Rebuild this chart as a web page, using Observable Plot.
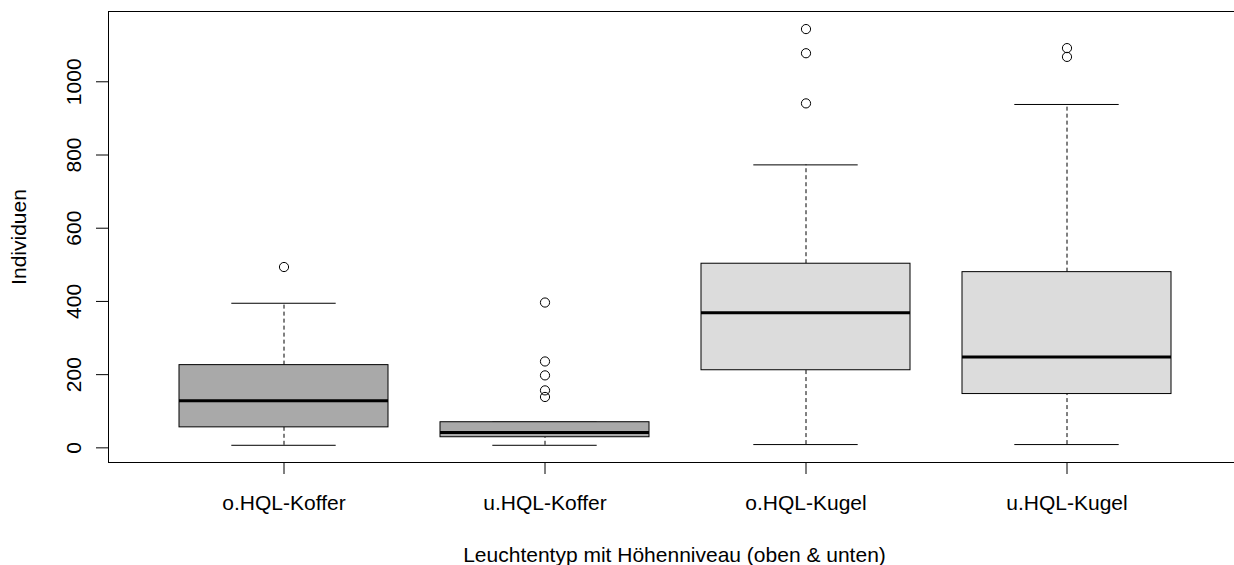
<!DOCTYPE html>
<html>
<head>
<meta charset="utf-8">
<script src="https://cdn.jsdelivr.net/npm/d3@7"></script>
<script src="https://cdn.jsdelivr.net/npm/@observablehq/plot@0.6"></script>
<style>
  html, body { margin: 0; padding: 0; background: #fff; overflow: hidden; width: 1234px; height: 565px; }
  #chart { width: 1234px; height: 565px; overflow: hidden; }
  #chart svg { display: block; max-width: none !important; }
</style>
</head>
<body>
<div id="chart"></div>
<script>
// Categories (x) and their lamp type
const categories = ["o.HQL-Koffer", "u.HQL-Koffer", "o.HQL-Kugel", "u.HQL-Kugel"];
const lampType = ["Koffer", "Koffer", "Kugel", "Kugel"];

// Box statistics
const lowerWhisker = [7, 7, 9, 9];
const q1 = [56, 29, 212, 147];
const median = [129, 42, 369, 248];
const q3 = [226, 70, 503, 480];
const upperWhisker = [395, 70, 773, 938];

// Outliers
const outlierCategory = [
  "o.HQL-Koffer",
  "u.HQL-Koffer", "u.HQL-Koffer", "u.HQL-Koffer", "u.HQL-Koffer", "u.HQL-Koffer",
  "o.HQL-Kugel", "o.HQL-Kugel", "o.HQL-Kugel",
  "u.HQL-Kugel", "u.HQL-Kugel"
];
const outlierValue = [
  494,
  397, 236, 198, 157, 139,
  1144, 1078, 941,
  1092, 1068
];

// Tick values and labels
const yTicks = [0, 200, 400, 600, 800, 1000];
const xTitle = "Leuchtentyp mit Höhenniveau (oben & unten)";
const yTitle = "Individuen";

const stats = categories.map((c, i) => ({
  cat: c, type: lampType[i],
  lo: lowerWhisker[i], q1: q1[i], med: median[i], q3: q3[i], hi: upperWhisker[i]
}));
const outliers = outlierCategory.map((c, i) => ({cat: c, v: outlierValue[i]}));

// The R plot region extends slightly past the right edge of the picture,
// so the SVG is a little wider than the 1234px window and gets cropped.
const W = 1240, H = 565;
const font = "'Liberation Sans', Arial, Helvetica, sans-serif";

const chart = Plot.plot({
  width: W,
  height: H,
  marginLeft: 108,
  marginRight: 0,
  marginTop: 11,
  marginBottom: 103,
  style: {fontFamily: font, fontSize: "21px", color: "#000", background: "#fff", maxWidth: "none"},
  x: {type: "band", domain: categories, paddingInner: 0.2, paddingOuter: 0.1, insetLeft: 43, insetRight: 42, label: null},
  y: {domain: [-40, 1192], label: null},
  color: {domain: ["Koffer", "Kugel"], range: ["#a9a9a9", "#dcdcdc"]},
  marks: [
    Plot.frame({stroke: "#000"}),
    // whiskers (dashed)
    Plot.ruleX(stats, {x: "cat", y1: "q3", y2: "hi", stroke: "#000", strokeDasharray: "4,3"}),
    Plot.ruleX(stats, {x: "cat", y1: "lo", y2: "q1", stroke: "#000", strokeDasharray: "4,3"}),
    // whisker caps
    Plot.tickY(stats, {x: "cat", y: "hi", stroke: "#000", insetLeft: 52.3, insetRight: 52.3}),
    Plot.tickY(stats, {x: "cat", y: "lo", stroke: "#000", insetLeft: 52.3, insetRight: 52.3}),
    // boxes
    Plot.barY(stats, {x: "cat", y1: "q1", y2: "q3", fill: "type", stroke: "#000", strokeWidth: 1}),
    // medians
    Plot.tickY(stats, {x: "cat", y: "med", stroke: "#000", strokeWidth: 3}),
    // outliers
    Plot.dot(outliers, {x: "cat", y: "v", r: 4.6, stroke: "#000", strokeWidth: 1, fill: "none"}),
    // axes
    Plot.axisX({tickSize: 12, tickPadding: 21, fontSize: 21, label: null}),
    Plot.axisY({ticks: yTicks, tickFormat: d3.format("d"), tickSize: 12, tickPadding: 16, tickRotate: -90, fontSize: 21, label: null}),
    // axis titles
    Plot.text([xTitle], {frameAnchor: "bottom", dy: 99, lineAnchor: "bottom", fontSize: 21, fill: "#000"}),
    Plot.text([yTitle], {frameAnchor: "left", dx: -83, rotate: -90, lineAnchor: "bottom", textAnchor: "middle", fontSize: 21, fill: "#000"})
  ]
});
document.getElementById("chart").appendChild(chart);
</script>
</body>
</html>
